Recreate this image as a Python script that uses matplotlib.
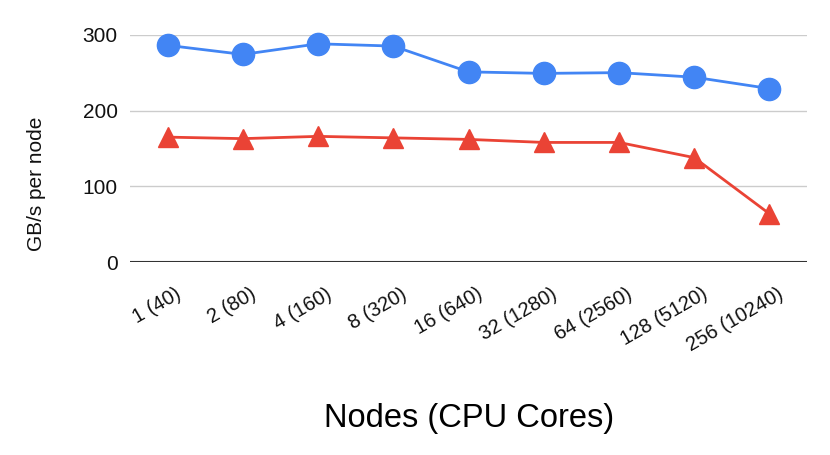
import matplotlib
matplotlib.use("Agg")
import matplotlib.pyplot as plt
import matplotlib.transforms as mtransforms

plt.rcParams['font.family'] = ['Liberation Sans', 'DejaVu Sans']

nodes = ["1 (40)", "2 (80)", "4 (160)", "8 (320)", "16 (640)", "32 (1280)",
         "64 (2560)", "128 (5120)", "256 (10240)"]
blue_vals = [286, 274, 288, 285, 251, 249, 250, 244, 229]
red_vals = [165, 163, 166, 164, 162, 158, 158, 138, 64]

fig = plt.figure(figsize=(8.3, 4.55), dpi=100)
ax = fig.add_axes([130 / 830, 1 - 262.3 / 455, 677 / 830, 227.6 / 455])

x = list(range(len(nodes)))
ax.plot(x, blue_vals, color='#4285F4', lw=2, marker='o', ms=16, clip_on=False, zorder=3)
ax.plot(x, red_vals, color='#EA4335', lw=2, marker='^', ms=14, clip_on=False, zorder=3)

ax.set_xlim(-0.5, len(nodes) - 0.5)
ax.set_ylim(0, 300)
ax.set_yticks([0, 100, 200, 300])
ax.grid(axis='y', color='#cccccc', lw=1)
ax.set_axisbelow(True)
ax.axhline(0, color='#333333', lw=1.5, zorder=2)
for s in ax.spines.values():
    s.set_visible(False)

ax.tick_params(axis='y', length=0, pad=9, labelsize=15, labelcolor='#111111')
ax.tick_params(axis='x', length=0, pad=16, labelsize=14.5, labelcolor='#111111')
ax.set_xticks(x)
ax.set_xticklabels(nodes, rotation=30, ha='right', va='top')
shift = mtransforms.ScaledTranslation(17 / 100, 0, fig.dpi_scale_trans)
for lab in ax.get_xticklabels():
    lab.set_transform(lab.get_transform() + shift)

fig.text(36 / 830, 1 - 183.5 / 455, "GB/s per node", rotation=90,
         ha='center', va='center', fontsize=15, color='#111111')
fig.text(469 / 830, 1 - 427 / 455, "Nodes (CPU Cores)", ha='center',
         va='baseline', fontsize=23.5, color='#000000')

fig.savefig("out.png", dpi=100)
